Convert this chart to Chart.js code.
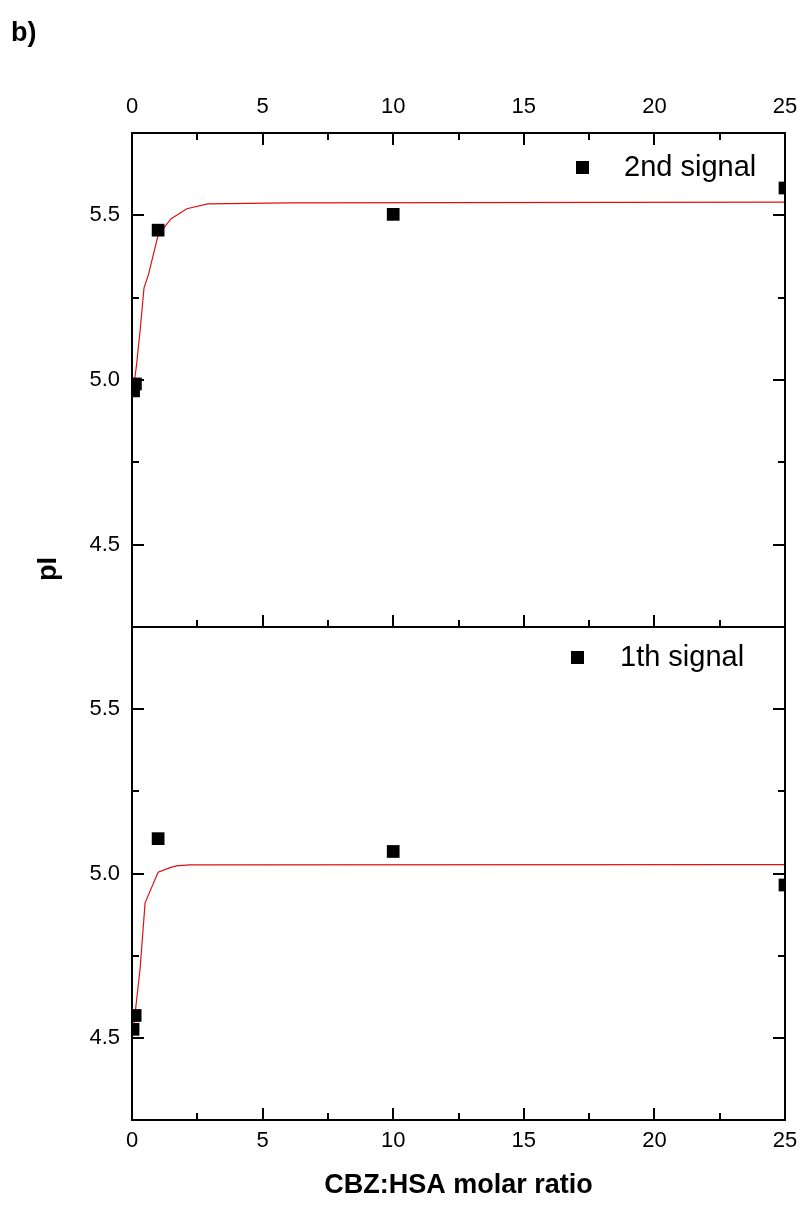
<!DOCTYPE html>
<html>
<head>
<meta charset="utf-8">
<script src="https://cdn.jsdelivr.net/npm/chart.js@4.4.1/dist/chart.umd.min.js"></script>
<style>
  html, body { margin: 0; padding: 0; background: #fff; }
  #wrap { position: relative; width: 806px; height: 1205px; overflow: hidden; background: #fff; }
  #wrap canvas { position: absolute; left: 0; top: 0; }
</style>
</head>
<body>
<div id="wrap">
  <canvas id="panelTop" width="806" height="1205"></canvas>
  <canvas id="panelBottom" width="806" height="1205"></canvas>
</div>
<script>
// Measured pI values against CBZ:HSA molar ratio
const ratio2nd = [0.06, 0.13, 1, 10, 25];
const pI2nd    = [4.967, 4.988, 5.455, 5.503, 5.583];
const ratio1th = [0.04, 0.12, 1, 10, 25];
const pI1th    = [4.526, 4.568, 5.106, 5.067, 4.965];

// Fitted saturation curves
const fitRatio2nd = [0, 0.18, 0.31, 0.46, 0.63, 1.0, 1.5, 2.1, 2.9, 6, 25];
const fitPI2nd    = [4.94, 5.05, 5.15, 5.28, 5.32, 5.44, 5.49, 5.52, 5.535, 5.538, 5.54];
const fitRatio1th = [0, 0.31, 0.5, 0.63, 1.0, 1.46, 1.7, 2.2, 25];
const fitPI1th    = [4.49, 4.71, 4.91, 4.935, 5.004, 5.018, 5.023, 5.026, 5.027];

// Axes
const xRange = [0, 25];
const yRange = [4.25, 5.75];
const xMajorTicks = [0, 5, 10, 15, 20, 25];
const xMinorTicks = [2.5, 7.5, 12.5, 17.5, 22.5];
const yMajorTicks = [4.5, 5.0, 5.5];
const yMinorTicks = [4.75, 5.25];

const seriesNames = ['2nd signal', '1th signal'];
const xTitle = 'CBZ:HSA molar ratio';
const yTitle = 'pI';
const panelTag = 'b)';

const FONT = "Arial, 'Liberation Sans', Helvetica, sans-serif";
const FIT_COLOR = '#e01010';

const toPoints = (xs, ys) => xs.map((x, i) => ({ x: x, y: ys[i] }));

// Frame around the plot area with inward-pointing ticks
const frameTicks = {
  id: 'frameTicks',
  afterDatasetsDraw(chart, args, opts) {
    const { ctx, chartArea: a } = chart;
    const xs = chart.scales.x, ys = chart.scales.y;
    const MAJ = 12, MIN = 7;
    ctx.save();
    ctx.strokeStyle = '#000';
    ctx.lineWidth = 2;
    ctx.strokeRect(a.left, a.top, a.right - a.left, a.bottom - a.top);
    ctx.beginPath();
    const xTick = (v, len) => {
      const px = Math.round(xs.getPixelForValue(v));
      if (opts.top) { ctx.moveTo(px, a.top); ctx.lineTo(px, a.top + len); }
      if (opts.bottom) { ctx.moveTo(px, a.bottom); ctx.lineTo(px, a.bottom - len); }
    };
    const yTick = (v, len) => {
      const py = Math.round(ys.getPixelForValue(v));
      ctx.moveTo(a.left, py); ctx.lineTo(a.left + len, py);
      ctx.moveTo(a.right, py); ctx.lineTo(a.right - len, py);
    };
    xMajorTicks.forEach(v => xTick(v, MAJ));
    xMinorTicks.forEach(v => xTick(v, MIN));
    yMajorTicks.forEach(v => yTick(v, MAJ));
    yMinorTicks.forEach(v => yTick(v, MIN));
    ctx.stroke();
    ctx.restore();
  }
};

// Legend entry drawn inside the plot area
const innerLegend = {
  id: 'innerLegend',
  afterDraw(chart, args, opts) {
    const { ctx } = chart;
    const ds = chart.data.datasets[0];
    ctx.save();
    ctx.fillStyle = '#000';
    ctx.fillRect(opts.x - 6, opts.y - 6, 13, 13);
    ctx.font = '29px ' + FONT;
    ctx.textBaseline = 'alphabetic';
    ctx.textAlign = 'left';
    ctx.fillText(ds.label, opts.tx, opts.ty);
    ctx.restore();
  }
};

// Shared y title and panel tag
const pageText = {
  id: 'pageText',
  afterDraw(chart) {
    const { ctx } = chart;
    ctx.save();
    ctx.fillStyle = '#000';
    ctx.font = 'bold 27px ' + FONT;
    ctx.textAlign = 'left';
    ctx.textBaseline = 'alphabetic';
    ctx.fillText(panelTag, 11, 41);
    ctx.translate(49, 569);
    ctx.rotate(-Math.PI / 2);
    ctx.textAlign = 'center';
    ctx.textBaseline = 'middle';
    ctx.font = 'bold 27px ' + FONT;
    ctx.fillText(yTitle, 0, 0);
    ctx.restore();
  }
};

function xScale(position, fitHeight, pad, withTitle) {
  const s = {
    type: 'linear',
    position: position,
    min: xRange[0],
    max: xRange[1],
    afterBuildTicks: sc => { sc.ticks = xMajorTicks.map(v => ({ value: v })); },
    afterFit: sc => {
      sc.height = fitHeight;
      sc.paddingLeft = 0;
      sc.paddingRight = 0;
    },
    grid: { display: false, drawTicks: false },
    border: { display: false },
    ticks: {
      padding: pad,
      color: '#000',
      maxRotation: 0,
      autoSkip: false,
      font: { family: FONT, size: 22 },
      callback: v => String(v)
    }
  };
  if (withTitle) {
    s.title = {
      display: true,
      text: xTitle,
      color: '#000',
      font: { family: FONT, size: 27, weight: 'bold' },
      padding: { top: 0, bottom: 3 }
    };
  }
  return s;
}

function yScale() {
  return {
    type: 'linear',
    position: 'left',
    min: yRange[0],
    max: yRange[1],
    afterBuildTicks: sc => { sc.ticks = yMajorTicks.map(v => ({ value: v })); },
    afterFit: sc => {
      sc.width = 132;
      sc.paddingTop = 0;
      sc.paddingBottom = 0;
    },
    grid: { display: false, drawTicks: false },
    border: { display: false },
    ticks: {
      padding: 12,
      color: '#000',
      font: { family: FONT, size: 22 },
      callback: v => Number(v).toFixed(1)
    }
  };
}

function datasets(name, xs, ys, fx, fy) {
  return [
    {
      label: name,
      data: toPoints(xs, ys),
      showLine: false,
      pointStyle: 'rect',
      pointRadius: 9,
      pointHoverRadius: 9,
      pointBackgroundColor: '#000',
      pointBorderWidth: 0,
      clip: 0,
      order: 0
    },
    {
      label: name + ' fit',
      data: toPoints(fx, fy),
      showLine: true,
      borderColor: FIT_COLOR,
      borderWidth: 1.2,
      pointRadius: 0,
      tension: 0,
      fill: false,
      clip: 0,
      order: 1
    }
  ];
}

const common = {
  responsive: false,
  animation: false,
  devicePixelRatio: 1,
  events: [],
  plugins: { legend: { display: false }, tooltip: { enabled: false } }
};

new Chart(document.getElementById('panelTop'), {
  type: 'scatter',
  data: { datasets: datasets(seriesNames[0], ratio2nd, pI2nd, fitRatio2nd, fitPI2nd) },
  options: Object.assign({}, common, {
    layout: { padding: { left: 0, top: 0, right: 21, bottom: 1205 - 627 } },
    scales: { x: xScale('top', 133, 13, false), y: yScale() },
    plugins: Object.assign({}, common.plugins, {
      frameTicks: { top: true, bottom: true },
      innerLegend: { x: 582, y: 167, tx: 624, ty: 176 }
    })
  }),
  plugins: [frameTicks, innerLegend, pageText]
});

new Chart(document.getElementById('panelBottom'), {
  type: 'scatter',
  data: { datasets: datasets(seriesNames[1], ratio1th, pI1th, fitRatio1th, fitPI1th) },
  options: Object.assign({}, common, {
    layout: { padding: { left: 0, top: 627, right: 21, bottom: 0 } },
    scales: { x: xScale('bottom', 85, 8, true), y: yScale() },
    plugins: Object.assign({}, common.plugins, {
      frameTicks: { top: false, bottom: true },
      innerLegend: { x: 577, y: 657, tx: 620, ty: 666 }
    })
  }),
  plugins: [frameTicks, innerLegend]
});
</script>
</body>
</html>
